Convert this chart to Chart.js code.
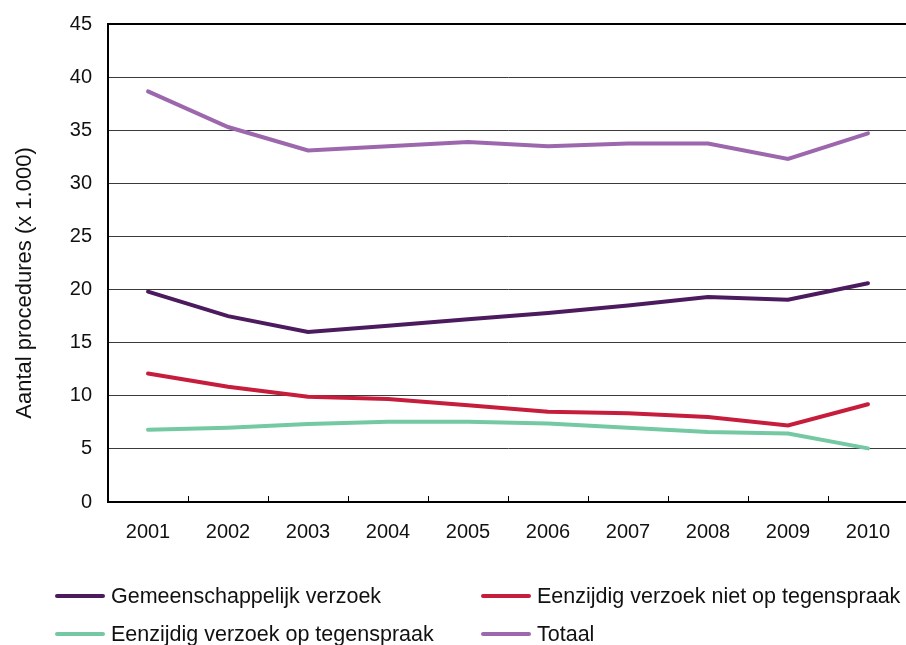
<!DOCTYPE html>
<html>
<head>
<meta charset="utf-8">
<script src="https://cdn.jsdelivr.net/npm/chart.js@4/dist/chart.umd.min.js"></script>
<style>
  html, body { margin: 0; padding: 0; background: #fff; overflow: hidden; }
  #wrap { position: relative; width: 912px; height: 645px; }
  #legend { position: absolute; left: 0; top: 0; width: 906px; height: 645px; pointer-events: none;
            font-family: "Liberation Sans", Arial, sans-serif; font-size: 21.5px; color: #111; }
  .item { position: absolute; display: flex; align-items: center; white-space: nowrap; }
  .swatch { width: 50px; height: 4px; margin-right: 6px; border-radius: 2px; }
</style>
</head>
<body>
<div id="wrap">
  <canvas id="chart" width="912" height="560"></canvas>
  <div id="legend"></div>
</div>
<script>
"use strict"

// data
// -----------------
var years = ['2001', '2002', '2003', '2004', '2005', '2006', '2007', '2008', '2009', '2010'];

var gemeenschappelijk = [19.8, 17.5, 16.0, 16.6, 17.2, 17.8, 18.5, 19.3, 19.05, 20.6];
var nietTegenspraak = [12.1, 10.85, 9.9, 9.7, 9.1, 8.5, 8.35, 8.0, 7.2, 9.2];
var opTegenspraak = [6.8, 7.0, 7.35, 7.55, 7.55, 7.4, 7.0, 6.6, 6.45, 5.05];
var totaal = [38.65, 35.3, 33.1, 33.5, 33.9, 33.5, 33.75, 33.75, 32.3, 34.7];

var seriesNames = ['Gemeenschappelijk verzoek', 'Eenzijdig verzoek niet op tegenspraak',
                   'Eenzijdig verzoek op tegenspraak', 'Totaal'];
var seriesColors = ['#4b1b5e', '#c61d3c', '#74c9a3', '#9d67ae'];
var yTitle = 'Aantal procedures (x 1.000)';

var FONT = '"Liberation Sans", Arial, sans-serif';

// inward tick marks between the years + y axis title
// -----------------
var extras = {
    id: 'extras',
    afterDraw: function(chart) {
        var x = chart.scales.x;
        var ctx = chart.ctx;
        var bottom = chart.chartArea.bottom;
        ctx.save();
        ctx.strokeStyle = '#000';
        ctx.lineWidth = 1;
        for (var i = 1; i < years.length; i++) {
            var px = Math.round((x.getPixelForTick(i - 1) + x.getPixelForTick(i)) / 2) + 0.5;
            ctx.beginPath();
            ctx.moveTo(px, bottom);
            ctx.lineTo(px, bottom - 6);
            ctx.stroke();
        }
        // y title, sits a bit below the middle of the plot
        ctx.translate(25, 283);
        ctx.rotate(-Math.PI / 2);
        ctx.fillStyle = '#111';
        ctx.font = '22px ' + FONT;
        ctx.textAlign = 'center';
        ctx.textBaseline = 'middle';
        ctx.fillText(yTitle, 0, 0);
        ctx.restore();
    }
};

var allSeries = [gemeenschappelijk, nietTegenspraak, opTegenspraak, totaal];
var datasets = allSeries.map(function(values, i) {
    return {
        label: seriesNames[i],
        data: values,
        borderColor: seriesColors[i],
        backgroundColor: seriesColors[i],
        borderWidth: 4,
        pointRadius: 0,
        tension: 0,
        borderCapStyle: 'round'
    };
});

new Chart(document.getElementById('chart'), {
    type: 'line',
    data: { labels: years, datasets: datasets },
    options: {
        responsive: false,
        animation: false,
        layout: { padding: { top: 24, right: 4, left: 0, bottom: 0 } },
        plugins: {
            legend: { display: false },
            tooltip: { enabled: false }
        },
        scales: {
            x: {
                offset: true,
                grid: { display: true, drawOnChartArea: false, drawTicks: false, offset: true },
                border: { display: true, color: '#000', width: 2 },
                ticks: { color: '#111', padding: 18, font: { family: FONT, size: 20 }, maxRotation: 0 },
                afterFit: function(s) { s.height = 58; }
            },
            y: {
                min: 0,
                max: 45,
                ticks: { stepSize: 5, color: '#111', padding: 16, font: { family: FONT, size: 20 } },
                grid: {
                    drawTicks: false,
                    color: function(c) { return c.tick && c.tick.value === 45 ? '#000' : '#3a3a3a'; },
                    lineWidth: function(c) { return c.tick && c.tick.value === 45 ? 2 : 1; }
                },
                border: { display: true, color: '#000', width: 2 },
                afterFit: function(s) {
                    s.width = 108;
                    s.paddingTop = 0;
                    s.paddingBottom = 0;
                }
            }
        }
    },
    plugins: [extras]
});

// legend in two columns
// -----------------
var legendPos = [[55, 596], [481, 596], [55, 634], [481, 634]];
var legend = document.getElementById('legend');
seriesNames.forEach(function(name, i) {
    var item = document.createElement('div');
    item.className = 'item';
    item.style.left = legendPos[i][0] + 'px';
    item.style.top = (legendPos[i][1] - 12) + 'px';
    item.style.height = '24px';
    item.innerHTML = '<span class="swatch" style="background:' + seriesColors[i] + '"></span>' + name;
    legend.appendChild(item);
});
</script>
</body>
</html>
